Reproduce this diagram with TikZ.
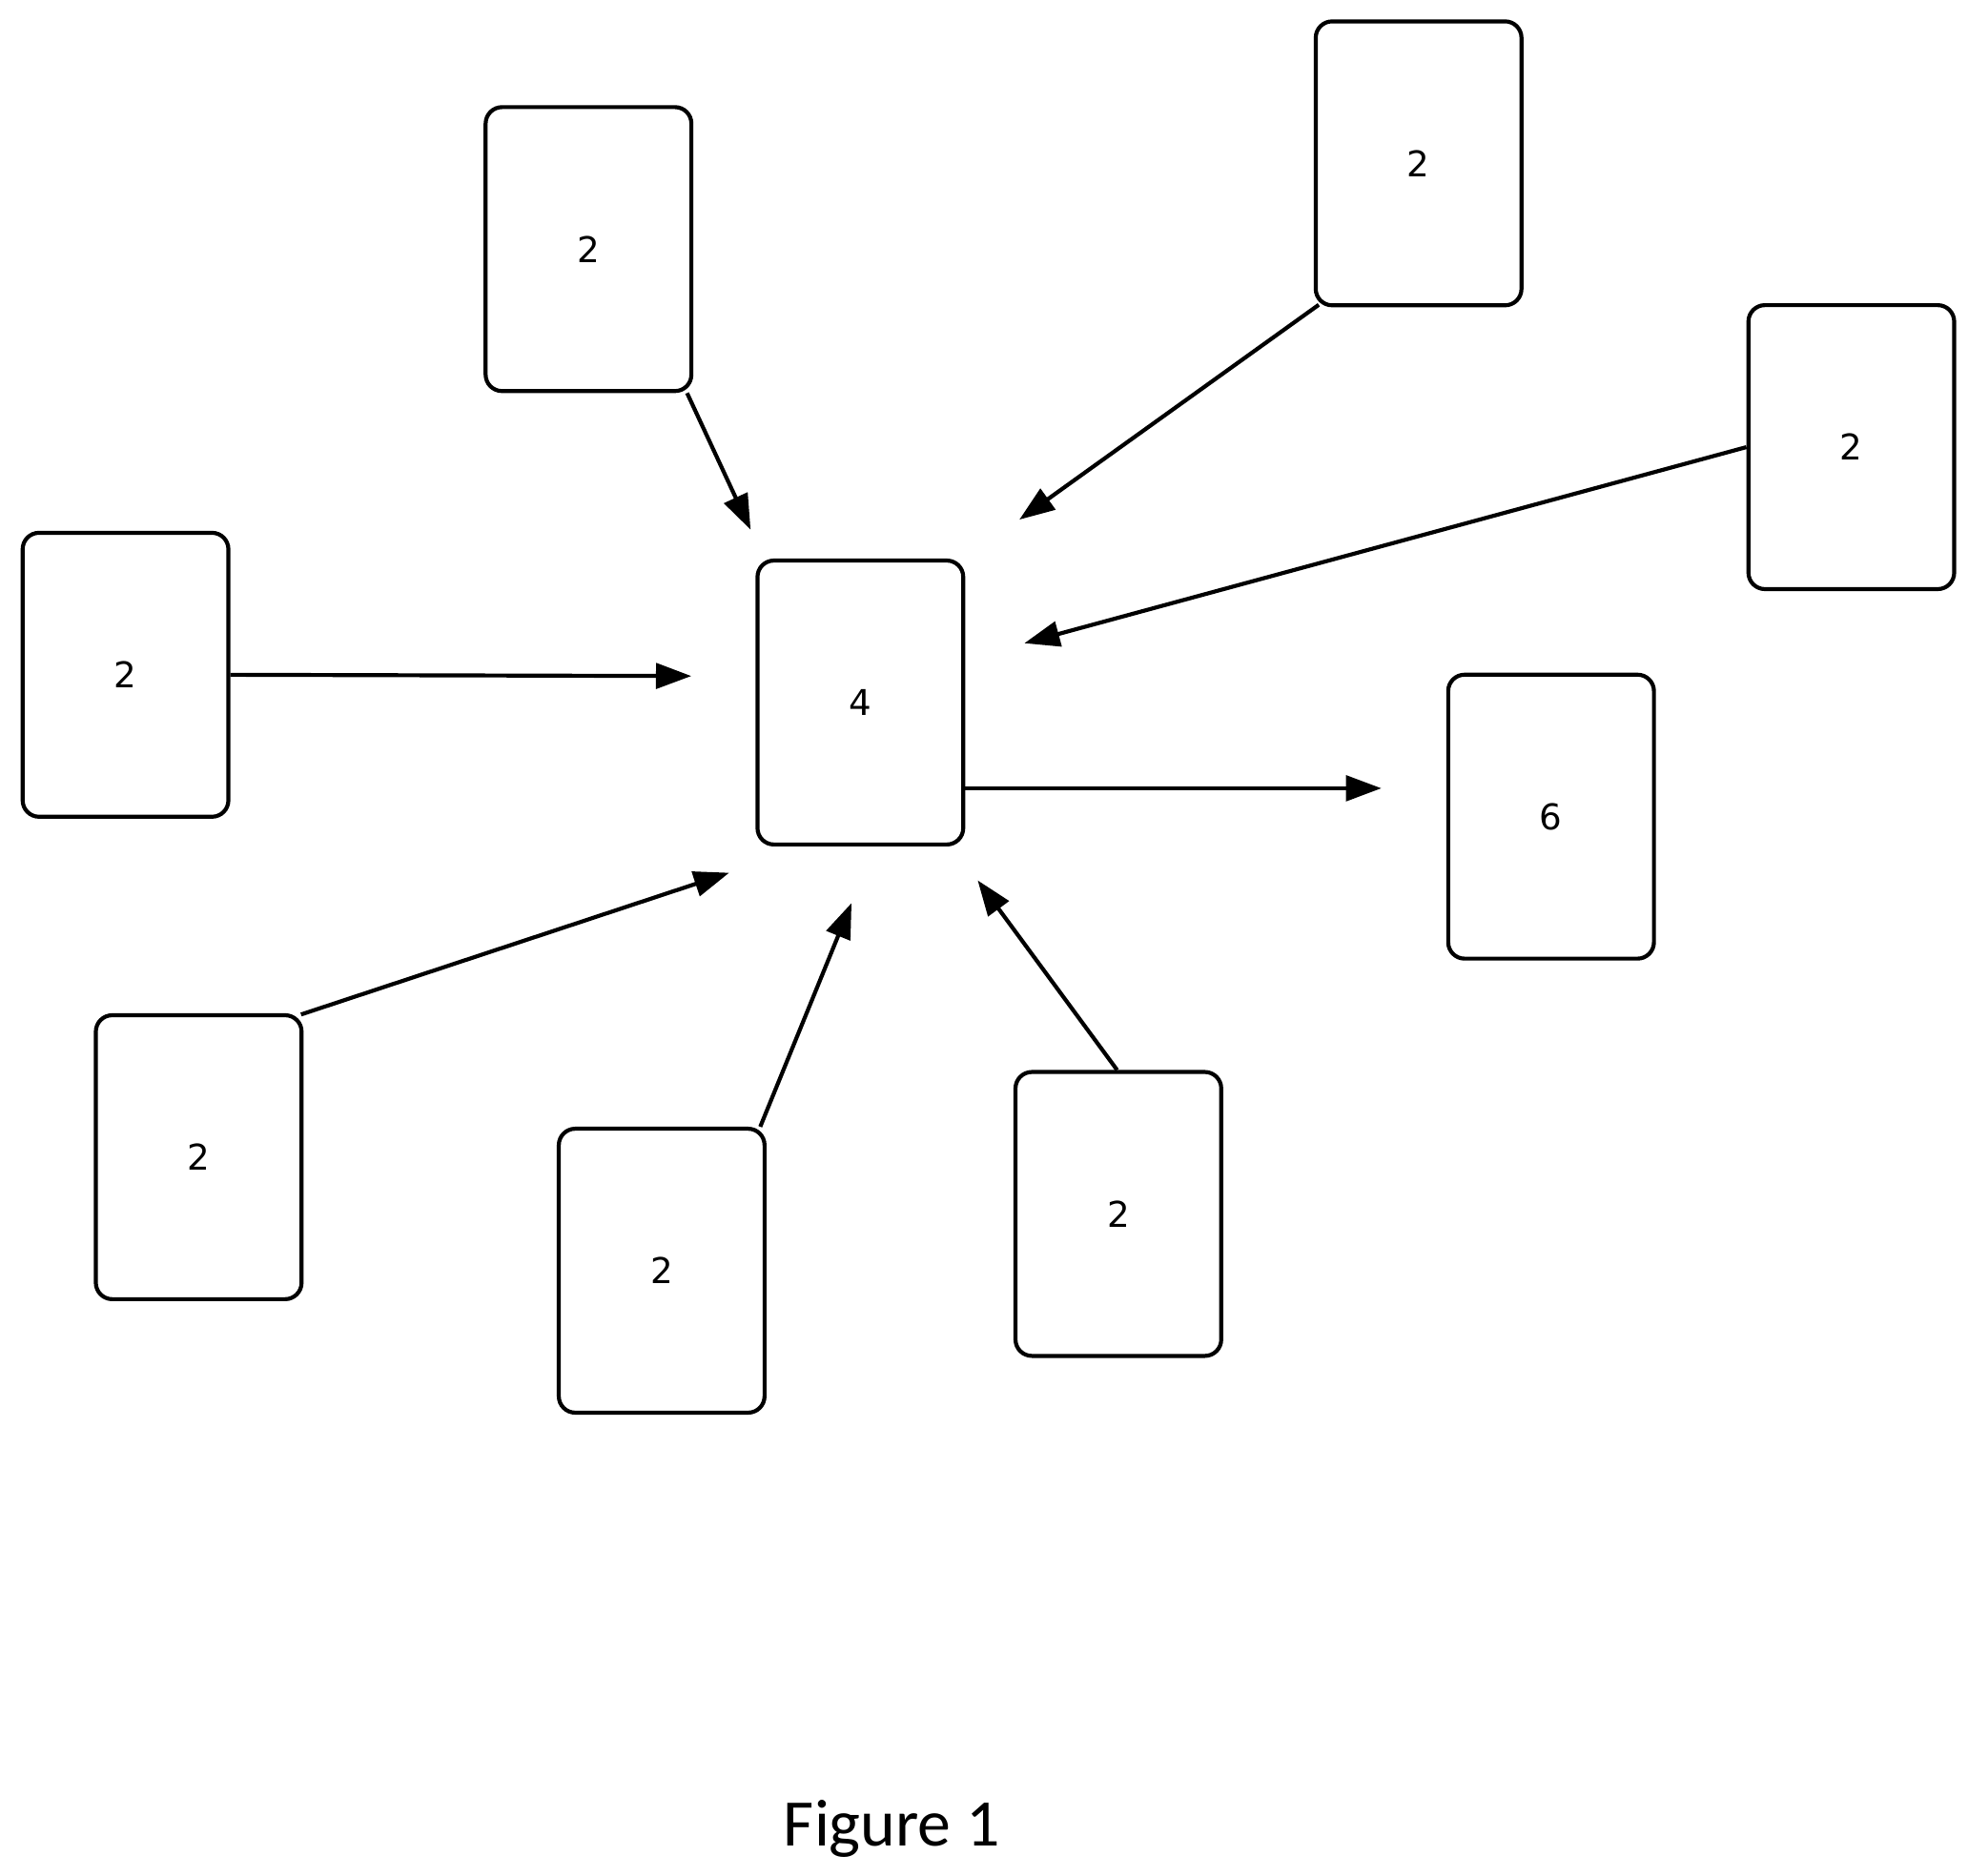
\documentclass[tikz,border=0pt]{standalone}
\usepackage{fontspec}
\setmainfont{DejaVu Sans}
\newfontfamily\capfont{Carlito}
\usetikzlibrary{arrows.meta}
\begin{document}
\begin{tikzpicture}[x=0.01cm,y=-0.01cm,
  box/.style={draw,line width=0.9pt,rounded corners=0.13cm,minimum width=1.63cm,minimum height=2.25cm,inner sep=0pt,font=\fontsize{8}{9}\selectfont},
  arr/.style={line width=0.9pt,-{Triangle[length=0.28cm,width=0.2cm]}}]
\useasboundingbox (0,0) rectangle (1560,1487);
\node[box] (A) at (466.5,197.5) {2};
\node[box] (B) at (1124.5,129.5) {2};
\node[box] (C) at (1467.5,354.5) {2};
\node[box] (D) at (99.5,535) {2};
\node[box] (M) at (682,557) {4};
\node[box] (S) at (1229.5,647.5) {6};
\node[box] (E) at (157.5,917.5) {2};
\node[box] (F) at (524.5,1007.5) {2};
\node[box] (G) at (886.5,962.5) {2};
\node[font=\capfont\fontsize{15}{18}\selectfont] (T) at (707,1450) {Figure 1};
\coordinate (a) at (595,420);
\coordinate (b) at (808,412);
\coordinate (c) at (812,510);
\coordinate (d) at (548,536);
\coordinate (o) at (1095,625);
\coordinate (e) at (578,692);
\coordinate (f) at (675,716);
\coordinate (g) at (775,698);
\draw[arr] (A.south east) ++(-5,0) -- (a);
\draw[arr] (B.south west) ++(4,-2) -- (b);
\draw[arr] (C.west) -- (c);
\draw[arr] (D.east) -- (d);
\draw[arr] (M.east) ++(0,68) -- (o);
\draw[arr] (E.north east) ++(-2,1) -- (e);
\draw[arr] (F.north east) ++(-5,0) -- (f);
\draw[arr] (G.north) ++(-1,0) -- (g);
\end{tikzpicture}
\end{document}
